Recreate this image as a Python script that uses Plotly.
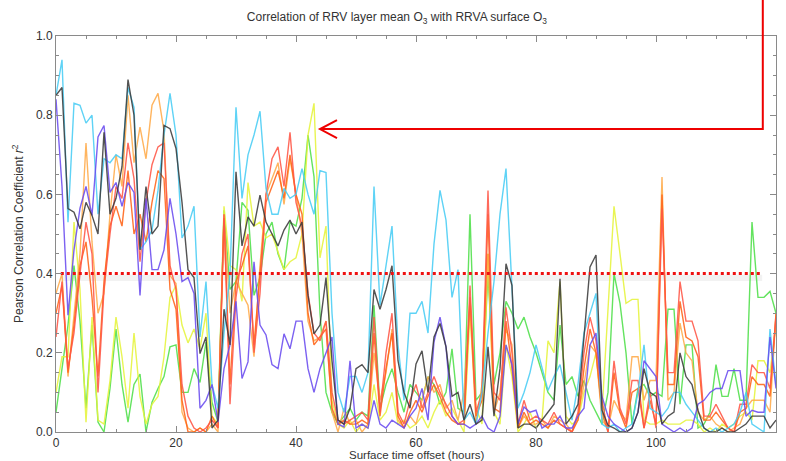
import plotly.graph_objects as go

hours = list(range(121))

cyan = [0.85,0.94,0.53,0.83,0.825,0.78,0.80,0.55,0.69,0.68,0.70,0.69,0.87,0.82,0.46,0.48,0.51,0.61,0.75,0.855,
        0.75,0.49,0.52,0.57,0.24,0.38,0.12,0.06,0.25,0.40,0.82,0.59,0.70,0.75,0.81,0.615,0.55,0.55,0.615,0.59,
        0.60,0.665,0.60,0.55,0.66,0.655,0.30,0.10,0.05,0.14,0.14,0.10,0.15,0.62,0.32,0.42,0.52,0.22,0.08,0.30,
        0.30,0.33,0.25,0.475,0.61,0.535,0.34,0.41,0.03,0.05,0.02,0.10,0.25,0.38,0.55,0.665,0.36,0.06,0.10,0.15,
        0.22,0.16,0.105,0.14,0.17,0.10,0.03,0.12,0.25,0.30,0.35,0.02,0.01,0.02,0.00,0.01,0.02,0.10,0.22,0.06,
        0.05,0.04,0.06,0.10,0.10,0.07,0.05,0.03,0.01,0.00,0.01,0.00,0.01,0.02,0.05,0.10,0.02,0.01,0.00,0.26,0.12]

black = [0.85,0.87,0.564,0.555,0.513,0.58,0.547,0.50,0.757,0.55,0.59,0.67,0.89,0.80,0.46,0.62,0.50,0.52,0.774,0.766,
         0.716,0.58,0.41,0.39,0.198,0.24,0.01,0.03,0.31,0.22,0.657,0.47,0.543,0.52,0.598,0.53,0.50,0.47,0.51,0.535,
         0.50,0.53,0.345,0.248,0.27,0.39,0.18,0.03,0.02,0.06,0.16,0.17,0.15,0.36,0.31,0.36,0.42,0.18,0.10,0.06,
         0.172,0.205,0.10,0.24,0.274,0.215,0.09,0.10,0.03,0.07,0.02,0.03,0.215,0.04,0.16,0.425,0.37,0.01,0.02,0.02,
         0.01,0.03,0.05,0.07,0.387,0.02,0.04,0.07,0.24,0.417,0.447,0.055,0.017,0.01,0.00,0.00,0.01,0.05,0.16,0.10,
         0.09,0.02,0.04,0.05,0.20,0.14,0.12,0.055,0.01,0.00,0.00,0.01,0.00,0.00,0.01,0.02,0.04,0.04,0.04,0.01,0.03]

purple = [0.84,0.62,0.295,0.46,0.565,0.62,0.547,0.745,0.774,0.605,0.63,0.57,0.63,0.605,0.345,0.59,0.41,0.41,0.46,0.59,
          0.50,0.38,0.39,0.35,0.06,0.08,0.12,0.025,0.16,0.22,0.33,0.135,0.177,0.43,0.27,0.245,0.17,0.16,0.248,0.21,
          0.28,0.28,0.16,0.10,0.16,0.20,0.24,0.02,0.013,0.18,0.01,0.02,0.01,0.08,0.02,0.01,0.03,0.02,0.01,0.04,
          0.06,0.11,0.03,0.228,0.29,0.215,0.04,0.02,0.02,0.01,0.02,0.04,0.01,0.00,0.04,0.22,0.17,0.02,0.063,0.05,
          0.055,0.01,0.02,0.02,0.04,0.01,0.01,0.04,0.06,0.22,0.25,0.09,0.04,0.02,0.01,0.00,0.01,0.05,0.18,0.16,
          0.14,0.02,0.01,0.00,0.01,0.00,0.01,0.07,0.08,0.10,0.11,0.11,0.155,0.155,0.155,0.04,0.055,0.05,0.05,0.24,0.11]

orange = [0.35,0.40,0.14,0.30,0.45,0.73,0.48,0.30,0.35,0.55,0.70,0.62,0.85,0.68,0.77,0.69,0.825,0.855,0.76,0.395,
          0.375,0.05,0.01,0.00,0.01,0.00,0.02,0.00,0.55,0.30,0.38,0.35,0.32,0.19,0.42,0.60,0.64,0.68,0.575,0.69,
          0.60,0.50,0.28,0.23,0.24,0.28,0.05,0.00,0.06,0.02,0.03,0.00,0.02,0.20,0.08,0.15,0.26,0.03,0.01,0.04,
          0.02,0.08,0.14,0.10,0.12,0.06,0.08,0.03,0.10,0.32,0.02,0.12,0.45,0.05,0.10,0.26,0.22,0.01,0.04,0.02,
          0.02,0.03,0.01,0.04,0.03,0.02,0.00,0.04,0.12,0.22,0.20,0.03,0.01,0.08,0.05,0.03,0.19,0.19,0.08,0.13,
          0.13,0.644,0.08,0.10,0.275,0.20,0.18,0.05,0.03,0.04,0.02,0.01,0.00,0.01,0.02,0.06,0.08,0.08,0.08,0.05,0.30]

red = [0.24,0.38,0.16,0.25,0.40,0.53,0.45,0.10,0.36,0.50,0.62,0.59,0.73,0.64,0.43,0.58,0.675,0.72,0.73,0.42,
       0.36,0.12,0.04,0.01,0.00,0.01,0.03,0.01,0.55,0.07,0.34,0.45,0.50,0.20,0.35,0.60,0.69,0.72,0.62,0.757,
       0.58,0.52,0.35,0.25,0.23,0.28,0.10,0.03,0.02,0.03,0.04,0.05,0.03,0.29,0.05,0.20,0.30,0.05,0.02,0.08,
       0.12,0.06,0.10,0.14,0.10,0.07,0.04,0.02,0.03,0.37,0.05,0.10,0.61,0.10,0.08,0.315,0.20,0.02,0.08,0.03,
       0.04,0.03,0.02,0.05,0.02,0.01,0.00,0.05,0.20,0.29,0.23,0.08,0.00,0.18,0.06,0.02,0.13,0.13,0.01,0.10,
       0.01,0.564,0.15,0.15,0.38,0.28,0.28,0.23,0.04,0.04,0.07,0.04,0.01,0.00,0.07,0.07,0.17,0.15,0.15,0.11,0.29]

orangered = [0.30,0.37,0.15,0.27,0.42,0.48,0.34,0.14,0.38,0.52,0.57,0.52,0.66,0.50,0.55,0.48,0.58,0.66,0.64,0.36,
             0.31,0.08,0.00,0.00,0.01,0.00,0.04,0.01,0.54,0.12,0.38,0.42,0.47,0.22,0.40,0.58,0.62,0.66,0.59,0.70,
             0.60,0.55,0.30,0.22,0.24,0.26,0.06,0.02,0.03,0.02,0.02,0.03,0.02,0.25,0.04,0.16,0.25,0.04,0.01,0.05,
             0.08,0.05,0.09,0.12,0.09,0.05,0.03,0.02,0.02,0.34,0.04,0.08,0.55,0.06,0.05,0.28,0.16,0.01,0.05,0.02,
             0.03,0.02,0.01,0.03,0.02,0.01,0.00,0.03,0.16,0.26,0.20,0.05,0.00,0.15,0.05,0.01,0.10,0.11,0.01,0.08,
             0.02,0.60,0.12,0.12,0.33,0.24,0.23,0.19,0.03,0.03,0.05,0.03,0.01,0.00,0.05,0.06,0.14,0.12,0.12,0.09,0.30]

yellow = [0.10,0.19,0.19,0.53,0.36,0.025,0.29,0.03,0.02,0.13,0.29,0.19,0.06,0.25,0.09,0.02,0.07,0.09,0.19,0.34,
          0.37,0.27,0.225,0.26,0.21,0.30,0.04,0.02,0.57,0.42,0.41,0.33,0.63,0.52,0.53,0.49,0.50,0.455,0.41,0.43,
          0.44,0.50,0.75,0.83,0.44,0.52,0.08,0.02,0.01,0.03,0.00,0.02,0.01,0.12,0.03,0.05,0.10,0.02,0.03,0.01,
          0.02,0.04,0.01,0.05,0.08,0.04,0.06,0.03,0.00,0.30,0.06,0.02,0.45,0.05,0.02,0.22,0.14,0.00,0.02,0.05,
          0.01,0.03,0.23,0.20,0.38,0.04,0.02,0.03,0.10,0.14,0.20,0.05,0.30,0.57,0.45,0.325,0.335,0.335,0.03,0.02,
          0.02,0.03,0.02,0.02,0.02,0.03,0.03,0.02,0.00,0.01,0.00,0.02,0.01,0.02,0.04,0.05,0.03,0.18,0.18,0.15,0.27]

green = [0.05,0.16,0.27,0.42,0.28,0.06,0.27,0.025,0.00,0.11,0.26,0.12,0.025,0.12,0.146,0.00,0.075,0.11,0.14,0.215,
         0.22,0.10,0.10,0.16,0.125,0.227,0.075,0.025,0.56,0.36,0.38,0.58,0.56,0.345,0.39,0.50,0.53,0.45,0.41,0.53,
         0.52,0.59,0.75,0.645,0.30,0.10,0.05,0.02,0.04,0.06,0.03,0.05,0.04,0.32,0.06,0.12,0.16,0.10,0.05,0.12,
         0.10,0.08,0.14,0.12,0.07,0.10,0.21,0.06,0.05,0.55,0.08,0.10,0.40,0.12,0.20,0.33,0.30,0.26,0.29,0.24,
         0.20,0.15,0.10,0.08,0.27,0.12,0.14,0.09,0.13,0.08,0.05,0.02,0.10,0.40,0.325,0.20,0.02,0.11,0.12,0.09,
         0.10,0.09,0.31,0.31,0.07,0.22,0.22,0.01,0.02,0.05,0.17,0.09,0.09,0.16,0.08,0.08,0.53,0.34,0.34,0.355,0.30]

series = [
    ("green", green, "#4fe04a"),
    ("yellow", yellow, "#e6f43c"),
    ("orange", orange, "#ffab4a"),
    ("orangered", orangered, "#ff6418"),
    ("red", red, "#ff5646"),
    ("cyan", cyan, "#48cdf5"),
    ("purple", purple, "#6a4cf0"),
    ("black", black, "#3c3c3c"),
]

threshold = 0.4
thr_x = [0.8, 117.7]

# arrow geometry (data units translated to paper units below)
x_max = 120.0
arrow_tip = (44.0, 0.765)
arrow_corner_x = 117.8

fig = go.Figure()
for name, vals, col in series:
    fig.add_trace(go.Scatter(x=hours, y=vals, mode="lines", name=name,
                             line=dict(color=col, width=1.4), opacity=0.88,
                             showlegend=False, hoverinfo="skip"))

fig.add_trace(go.Scatter(x=thr_x, y=[threshold, threshold], mode="lines",
                         line=dict(color="#ee1111", width=3, dash="dot"),
                         showlegend=False, hoverinfo="skip"))

tx = arrow_tip[0] / x_max
ty = arrow_tip[1]
cx = arrow_corner_x / x_max
shapes = [
    dict(type="rect", xref="x", yref="y", x0=thr_x[0], x1=thr_x[1], y0=0.381, y1=0.397,
         fillcolor="rgba(0,0,0,0.05)", line=dict(width=0), layer="below"),
    dict(type="path", xref="paper", yref="paper",
         path=f"M {cx},1.12 L {cx},{ty} L {tx},{ty}",
         line=dict(color="#ee0000", width=2)),
    dict(type="path", xref="paper", yref="paper",
         path=f"M {tx + 17/720},{ty + 9/396} L {tx},{ty} L {tx + 17/720},{ty - 9/396}",
         line=dict(color="#ee0000", width=2)),
]

axis_common = dict(showgrid=False, zeroline=False, showline=True, linecolor="#8a8a8a", linewidth=1,
                   mirror="allticks", ticks="inside", ticklen=6, tickcolor="#8a8a8a", tickwidth=1,
                   tickfont=dict(family="Liberation Sans, Arial, sans-serif", size=12, color="#333333"))

fig.update_layout(
    width=786, height=461,
    margin=dict(l=56, r=10, t=36, b=29),
    plot_bgcolor="white", paper_bgcolor="white",
    title=dict(text="Correlation of RRV layer mean O<sub>3</sub> with RRVA surface O<sub>3</sub>",
               x=0.505, xanchor="center", y=1 - 17/461, yanchor="middle",
               font=dict(family="Liberation Sans, Arial, sans-serif", size=12, color="#333333")),
    xaxis=dict(range=[0, 120], tick0=0, dtick=20,
               minor=dict(dtick=5, ticks="inside", ticklen=3, tickcolor="#8a8a8a"),
               **axis_common),
    yaxis=dict(range=[0, 1], tick0=0, dtick=0.2, tickformat=".1f",
               minor=dict(dtick=0.05, ticks="inside", ticklen=3, tickcolor="#8a8a8a"),
               **axis_common),
    shapes=shapes,
    annotations=[
        dict(text="Surface time offset (hours)", xref="paper", yref="paper",
             x=0.5, y=-(455 - 431.7) / 396, xanchor="center", yanchor="middle", showarrow=False,
             font=dict(family="Liberation Sans, Arial, sans-serif", size=11.5, color="#333333")),
        dict(text="Pearson Correlation Coefficient <i>r</i><sup>2</sup>", xref="paper", yref="paper",
             x=(18 - 56) / 720, y=0.5, xanchor="center", yanchor="middle", textangle=-90, showarrow=False,
             font=dict(family="Liberation Sans, Arial, sans-serif", size=12, color="#333333")),
    ],
)

fig.write_html("out.html")
